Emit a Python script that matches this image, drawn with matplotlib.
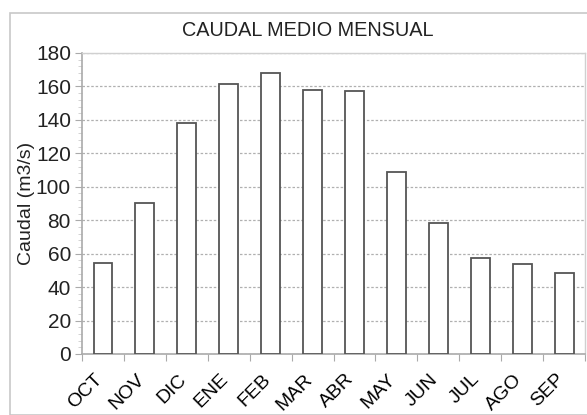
import matplotlib
matplotlib.use("Agg")
import matplotlib.pyplot as plt
from matplotlib.patches import Rectangle
from matplotlib.ticker import MultipleLocator
from matplotlib.transforms import ScaledTranslation
import numpy as np

# Monthly mean discharge, hydrological year Oct -> Sep
months = ["OCT", "NOV", "DIC", "ENE", "FEB", "MAR", "ABR", "MAY", "JUN", "JUL", "AGO", "SEP"]
caudal = [54.2, 90.1, 138.3, 161.3, 168.3, 157.9, 157.0, 109.0, 78.5, 57.6, 54.0, 48.3]
y_ticks = [0, 20, 40, 60, 80, 100, 120, 140, 160, 180]

plt.rcParams["font.family"] = ["Liberation Sans", "DejaVu Sans"]

fig = plt.figure(figsize=(5.87, 4.15), dpi=100)
ax = fig.add_axes([0.1397, 0.147, 0.857, 0.7253])

# light outer frame like the spreadsheet chart area
fig.patches.append(Rectangle((10 / 587, 0), 1.2, 1 - 13 / 415, transform=fig.transFigure,
                             fill=False, edgecolor="#c8c8c8", linewidth=1.2))

x = np.arange(len(months))
ax.bar(x, caudal, width=0.45, color="white", edgecolor="#555555", linewidth=1.3, zorder=3)

ax.set_xlim(-0.5, len(months) - 0.5)
ax.set_ylim(0, 180)
ax.set_yticks(y_ticks)
ax.yaxis.set_minor_locator(MultipleLocator(4))
ax.yaxis.grid(True, linestyle=(0, (2, 1.5)), color="#b0b0b0", linewidth=0.9, zorder=0)

# ticks at category boundaries, labels centred on bars
ax.set_xticks(np.arange(len(months) + 1) - 0.5)
ax.set_xticklabels([])
ax.set_xticks(x, minor=True)
ax.set_xticklabels(months, minor=True, rotation=45, ha="right", rotation_mode="anchor")
ax.tick_params(axis="x", which="minor", length=0, pad=12, labelsize=14)
ax.tick_params(axis="x", which="major", length=5, color="#aaaaaa", direction="out")
ax.tick_params(axis="y", which="major", length=5, color="#aaaaaa", labelsize=15, pad=3, labelcolor="#222222")
ax.tick_params(axis="y", which="minor", length=3, color="#cccccc")
ax.tick_params(axis="x", labelcolor="#222222")

shift = ScaledTranslation(-9 / 100, 0, fig.dpi_scale_trans)
for lab in ax.get_xticklabels(minor=True):
    lab.set_transform(lab.get_transform() + shift)

for side in ["left", "bottom"]:
    ax.spines[side].set_color("#aaaaaa")
    ax.spines[side].set_linewidth(1.2)
for side in ["top", "right"]:
    ax.spines[side].set_color("#d0d0d0")
    ax.spines[side].set_linewidth(1.0)

ax.set_ylabel("Caudal (m3/s)", fontsize=14, color="#222222")
ax.yaxis.set_label_coords(-0.094, 0.5)
fig.text(0.525, 1 - 31 / 415, "CAUDAL MEDIO MENSUAL", ha="center", va="center",
         fontsize=14.3, color="#222222")

fig.savefig("out.png", dpi=100)
